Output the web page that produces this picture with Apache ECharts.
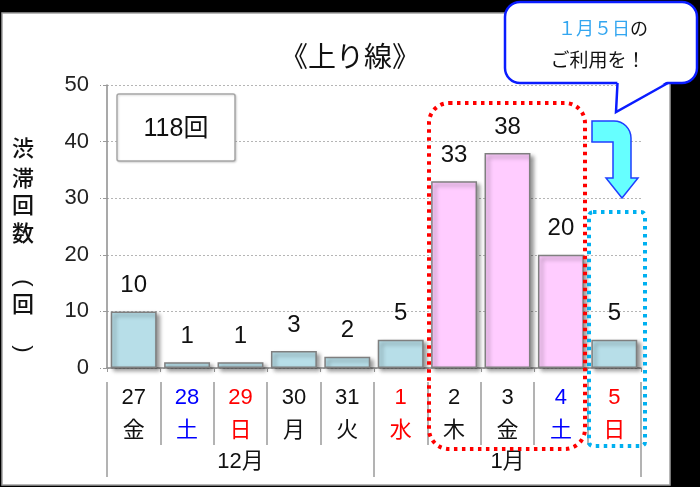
<!DOCTYPE html>
<html>
<head>
<meta charset="utf-8">
<script src="https://cdn.jsdelivr.net/npm/echarts@6/dist/echarts.min.js"></script>
<style>
html,body{margin:0;padding:0;background:#000;}
#c{width:700px;height:487px;}
</style>
</head>
<body>
<div id="c"></div>
<script>
// ---- data ----
const days = ['27','28','29','30','31','1','2','3','4','5'];
const weekdays = ['金','土','日','月','火','水','木','金','土','日'];
const dayKinds = ['w','sat','sun','w','w','hol','w','w','sat','sun'];
const months = ['12月','1月'];
const counts = [10,1,1,3,2,5,33,38,20,5];
const highlight = [false,false,false,false,false,false,true,true,true,false];
const yTicks = [0,10,20,30,40,50];
const titleText = '《上り線》';
const totalText = '118回';
const yNameChars = ['渋','滞','回','数','(','回',')'];
const calloutLine1a = '１月５日';
const calloutLine1b = 'の';
const calloutLine2 = 'ご利用を！';

const FONT = '"Liberation Sans", "Noto Sans CJK JP", sans-serif';
const kindColor = {w:'#111', sat:'#0000ff', sun:'#ff0000', hol:'#ff0000'};

const chart = echarts.init(document.getElementById('c'));

const yNameY = [148,178,205,233,283,304,349];
const yNameGraphics = yNameChars.map((ch,i)=>{
  const paren = (ch === '(' || ch === ')');
  return {
    type:'text', x:23, y:yNameY[i], z:10, rotation: paren ? -Math.PI/2 : 0,
    style:{text:ch, align:'center', verticalAlign:'middle',
      font: paren ? '22px "Liberation Sans", sans-serif' : '500 22px "Noto Sans CJK JP", sans-serif', fill:'#111'}
  };
});

// bent arrow outline (decoration)
const arrowPts = [[592,121]];
for (let k=0;k<=8;k++){ const t=k/8*Math.PI/2; arrowPts.push([614+17*Math.sin(t), 138-17*Math.cos(t)]); }
arrowPts.push([631,178],[638,178],[622,198],[606,178],[613,178],[613,142],[592,142]);

const option = {
  backgroundColor:'#000',
  animation:false,
  grid:{left:107, right:59, top:85, bottom:119},
  xAxis:[
    {
      type:'category', data:days, position:'bottom',
      axisLine:{show:true, lineStyle:{color:'#8c8c8c', width:1.5}},
      axisTick:{show:true, interval:0, length:4, lineStyle:{color:'#9a9a9a', type:'dashed'}},
      axisLabel:{
        interval:0, margin:13,
        formatter:(v,i)=>`{${dayKinds[i]}|${v}}\n{${dayKinds[i]}|${weekdays[i]}}`,
        rich:{
          w:{color:kindColor.w, fontSize:22, lineHeight:33, fontFamily:FONT},
          sat:{color:kindColor.sat, fontSize:22, lineHeight:33, fontFamily:FONT},
          sun:{color:kindColor.sun, fontSize:22, lineHeight:33, fontFamily:FONT},
          hol:{color:kindColor.hol, fontSize:22, lineHeight:33, fontFamily:FONT}
        }
      }
    },
    {
      type:'category', data:days, position:'bottom', offset:14,
      axisLine:{show:false},
      axisTick:{show:true, interval:0, length:63, lineStyle:{color:'#9a9a9a', width:1.5}},
      axisLabel:{show:false}
    },
    {
      type:'category', data:months, position:'bottom', offset:14,
      axisLine:{show:false},
      axisTick:{show:true, interval:0, length:95, lineStyle:{color:'#9a9a9a', width:1.5}},
      axisLabel:{interval:0, margin:69, fontSize:22, lineHeight:22, color:'#111', fontFamily:FONT}
    }
  ],
  yAxis:{
    type:'value', min:yTicks[0], max:yTicks[yTicks.length-1], interval:10,
    axisLine:{show:true, lineStyle:{color:'#8c8c8c', width:1.5}},
    axisTick:{show:true, length:7, lineStyle:{color:'#9a9a9a', type:'dashed'}},
    axisLabel:{margin:18, fontSize:22, color:'#222', fontFamily:FONT},
    splitLine:{show:true, lineStyle:{color:'#b5b5b5', type:[2,2], width:1}}
  },
  series:[{
    type:'bar', xAxisIndex:0, barCategoryGap:'14%',
    data:counts.map((v,i)=>({value:v, itemStyle:{color: highlight[i] ? '#ffccff' : '#b7dee8'}})),
    itemStyle:{borderColor:'#7f7f7f', borderWidth:1.5,
      shadowColor:'rgba(0,0,0,0.4)', shadowBlur:4, shadowOffsetX:3, shadowOffsetY:3},
    label:{show:true, position:'top', distance:14, fontSize:24, color:'#111', fontFamily:FONT}
  }],
  graphic:[
    {type:'rect', z:-10, silent:true, shape:{x:2, y:13, width:668, height:472},
      style:{fill:'#fff', stroke:'#a0a0a0', lineWidth:1.5}},
    {type:'text', z:10, x:350, y:56, style:{text:titleText, align:'center', verticalAlign:'middle',
      font:'28px "Noto Sans CJK JP", sans-serif', fill:'#111'}},
    {type:'rect', z:10, shape:{x:117, y:94, width:118, height:67, r:2},
      style:{fill:'#fff', stroke:'#a6a6a6', lineWidth:1.5, shadowColor:'rgba(0,0,0,0.15)', shadowBlur:2, shadowOffsetX:1, shadowOffsetY:1}},
    {type:'text', z:11, x:176, y:129, style:{text:totalText, align:'center', verticalAlign:'middle',
      font:'25px "Liberation Sans", "Noto Sans CJK JP", sans-serif', fill:'#111'}},
    {type:'rect', z:12, shape:{x:429, y:103, width:156, height:346, r:20},
      style:{fill:'none', stroke:'#ff0000', lineWidth:4, lineDash:[3.5,4.5]}},
    {type:'rect', z:12, shape:{x:589, y:212, width:56, height:234, r:4},
      style:{fill:'none', stroke:'#00b0f0', lineWidth:4, lineDash:[3.5,4.5]}},
    {type:'polygon', z:12, shape:{points:arrowPts},
      style:{fill:'#66ffff', stroke:'#1f3fff', lineWidth:1.5}},
    {type:'rect', z:13, shape:{x:505, y:2, width:192, height:81, r:15},
      style:{fill:'#fff', stroke:'#0a1cff', lineWidth:2.5}},
    {type:'polygon', z:14, shape:{points:[[617.5,79],[616,112],[671,79]]},
      style:{fill:'#fff'}},
    {type:'polyline', z:15, shape:{points:[[617.5,83],[616,112],[668,83]]},
      style:{fill:'none', stroke:'#0a1cff', lineWidth:2.5}},
    {type:'text', z:16, x:603, y:28, style:{
      text:`{b|${calloutLine1a}}{k|${calloutLine1b}}`, align:'center', verticalAlign:'middle',
      rich:{b:{fill:'#33a6f0', font:'18px "Noto Sans CJK JP", sans-serif'},
            k:{fill:'#111', font:'18px "Noto Sans CJK JP", sans-serif'}}}},
    {type:'text', z:16, x:598, y:60, style:{text:calloutLine2, align:'center', verticalAlign:'middle',
      font:'19px "Noto Sans CJK JP", sans-serif', fill:'#111'}},
    ...yNameGraphics
  ]
};
chart.setOption(option);
</script>
</body>
</html>
